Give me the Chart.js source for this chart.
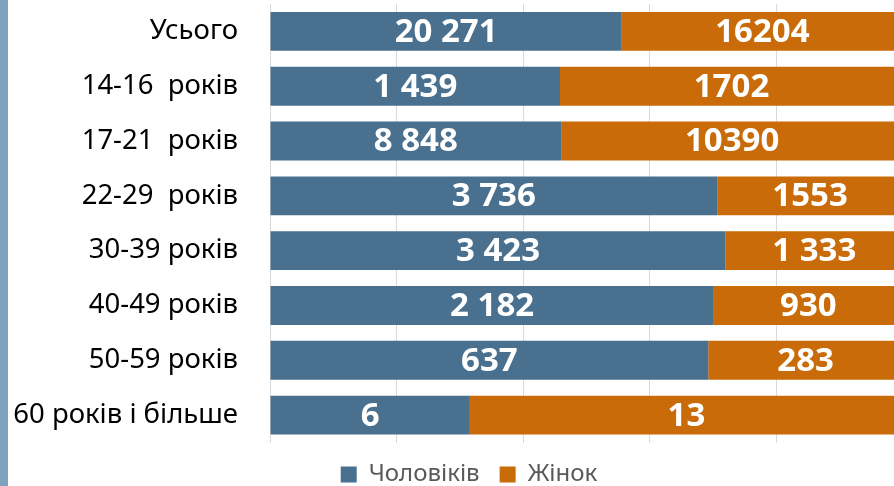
<!DOCTYPE html>
<html><head><meta charset="utf-8">
<script src="https://cdn.jsdelivr.net/npm/chart.js@4"></script>
<style>
html,body{margin:0;padding:0;overflow:hidden;background:#fff;width:894px;height:486px;}
#strip{position:absolute;left:0;top:0;width:8px;height:486px;background:#7ea3bf;}
#wrap{position:absolute;left:0;top:0;width:912px;height:486px;}
</style></head><body>
<div id="wrap"><canvas id="c" width="912" height="486"></canvas></div>
<div id="strip"></div>
<script>
const categories = ["Усього","14-16  років","17-21  років","22-29  років","30-39 років","40-49 років","50-59 років","60 років і більше"];
const menValues = [20271,1439,8848,3736,3423,2182,637,6];
const womenValues = [16204,1702,10390,1553,1333,930,283,13];
const menLabels = ["20 271","1 439","8 848","3 736","3 423","2 182","637","6"];
const womenLabels = ["16204","1702","10390","1553","1 333","930","283","13"];
const seriesNames = ["Чоловіків","Жінок"];

const totals = menValues.map((v,i)=>v+womenValues[i]);
const menShare = menValues.map((v,i)=>v/totals[i]*100);
const womenShare = womenValues.map((v,i)=>v/totals[i]*100);
const labelSets = [menLabels, womenLabels];

const valueLabels = {
  id:'valueLabels',
  afterLayout(chart){ chart.scales.y.left = 0; },
  afterDatasetsDraw(chart){
    const ctx = chart.ctx;
    ctx.save();
    ctx.font = 'bold 33px "Noto Sans"';
    ctx.fillStyle = '#ffffff';
    ctx.textAlign = 'center';
    ctx.textBaseline = 'middle';
    chart.data.datasets.forEach((ds,di)=>{
      const meta = chart.getDatasetMeta(di);
      meta.data.forEach((el,i)=>{
        const p = el.getProps(['x','y','base'],true);
        ctx.fillText(labelSets[di][i], (p.x+p.base)/2, p.y+1);
      });
    });
    ctx.restore();
  }
};

new Chart(document.getElementById('c'), {
  type:'bar',
  data:{
    labels:categories,
    datasets:[
      {label:seriesNames[0], data:menShare, backgroundColor:'#49708f', borderWidth:0},
      {label:seriesNames[1], data:womenShare, backgroundColor:'#ca6b09', borderWidth:0}
    ]
  },
  options:{
    indexAxis:'y',
    responsive:false,
    animation:false,
    layout:{padding:{left:35,right:9,top:4,bottom:-10.5}},
    datasets:{bar:{categoryPercentage:1,barPercentage:0.71}},
    scales:{
      x:{stacked:true,min:0,max:100,
         ticks:{display:false,stepSize:20},
         grid:{color:'#d9d9d9',drawTicks:false},
         border:{display:false}},
      y:{stacked:true,
         afterFit(s){s.width=235;s.paddingTop=0;s.paddingBottom=0;},
         grid:{display:false},
         border:{color:'#d9d9d9',width:1},
         ticks:{font:{family:'"Noto Sans"',size:27.5},color:'#000',padding:24}}
    },
    plugins:{
      legend:{position:'bottom',
        labels:{font:{family:'"Noto Sans"',size:24},color:'#595959',boxWidth:16,boxHeight:16,padding:20}},
      tooltip:{enabled:false}
    }
  },
  plugins:[valueLabels]
});
</script></body></html>
